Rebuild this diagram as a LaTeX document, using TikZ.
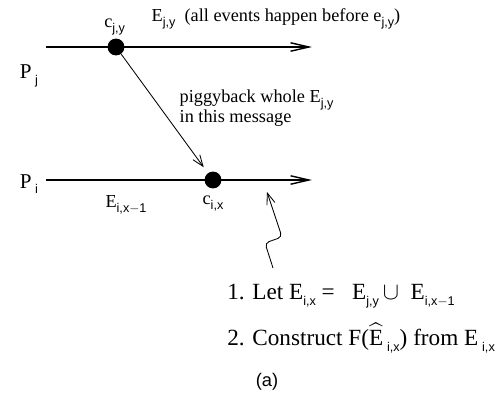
\documentclass[tikz,border=0pt]{standalone}
\usepackage{amsmath}
\usepackage{fontspec}
\setmainfont{Liberation Serif}
\setsansfont{Liberation Sans}
\usetikzlibrary{arrows.meta, positioning}

\newcommand{\sbx}[1]{\raisebox{-0.6ex}{\small\sffamily #1}}

\begin{document}
\begin{tikzpicture}[x=0.25mm,y=-0.25mm,
    font=\fontsize{13}{15}\selectfont,
    timeline/.style={line width=1pt,-{Straight Barb[length=13pt,width=6pt]}},
    msg/.style={line width=0.6pt,-{Straight Barb[length=8pt,width=6pt]}},
    event/.style={circle,fill,inner sep=0pt,minimum size=12pt},
    lbl/.style={inner sep=1pt},
    big/.style={inner sep=1pt,font=\fontsize{15}{17}\selectfont},
    steptext/.style={inner sep=0pt,anchor=west,font=\fontsize{16.5}{19}\selectfont}]
    \useasboundingbox (0,0) rectangle (503,406);

    % processes
    \coordinate (pj0) at (46,47);
    \coordinate (pj1) at (312,47);
    \coordinate (pi0) at (46,180);
    \coordinate (pi1) at (312,180);
    \draw[timeline] (pj0) -- (pj1);
    \draw[timeline] (pi0) -- (pi1);
    \node[big] (pj) at (29,76) {P\,\sbx{j}};
    \node[big] (pi) at (29,184) {P\,\sbx{i}};

    % checkpoints
    \node[event] (cjy) at (116,47) {};
    \node[event] (cix) at (213,180) {};
    \node[lbl,above left=3pt and -12pt of cjy] (cjylbl) {c\sbx{j,y}};
    \node[lbl,below=4pt of cix] (cixlbl) {c\sbx{i,x}};
    \node[lbl,anchor=west] (ejy) at (150,19) {E\sbx{j,y}\ \ (all events happen before e\sbx{j,y})};
    \node[lbl] (eix) at (126,205) {E\sbx{i,x$-$1}};

    % message
    \draw[msg,shorten >=5pt] (cjy) -- (cix);
    \node[lbl,anchor=north west,align=left] (piggy) at (178,88)
        {piggyback whole E\sbx{j,y}\\[-1pt]in this message};

    % pointer to the steps
    \coordinate (z0) at (273,268);
    \coordinate (z1) at (265,243);
    \coordinate (z2) at (282,237);
    \coordinate (z3) at (267,192);
    \draw[msg,rounded corners=3pt] (z0) -- (z1) -- (z2) -- (z3);

    \node[steptext] (step1) at (227,296)
        {1. Let E\sbx{i,x} = \ \ E\sbx{j,y}\,$\cup$\ \ E\sbx{i,x$-$1}};
    \node[steptext] (step2) at (227,338)
        {2. Construct F($\widehat{\mbox{E}}$\,\sbx{i,x})\ from E\,\sbx{i,x}};
    \node[lbl,font=\sffamily\fontsize{13}{15}\selectfont] (cap) at (267,382) {(a)};
\end{tikzpicture}
\end{document}
